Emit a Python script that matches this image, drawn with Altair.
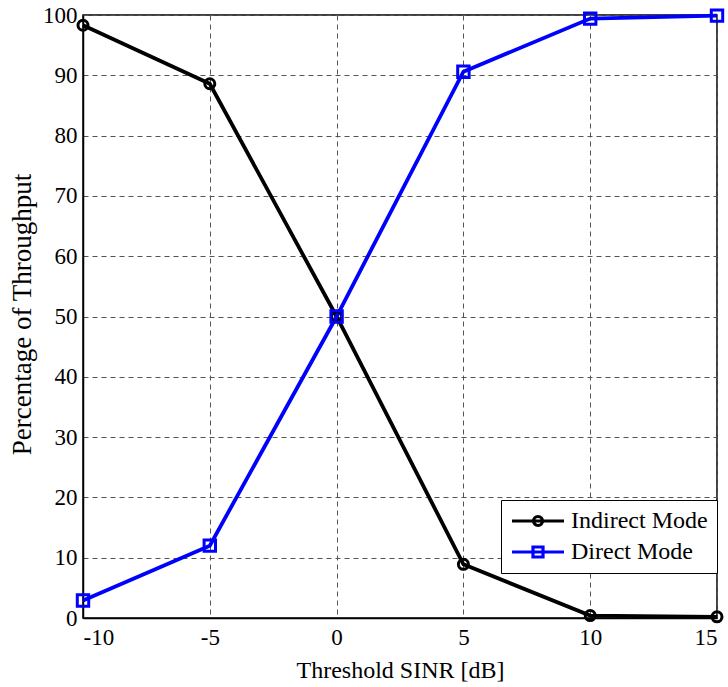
import altair as alt
import pandas as pd

x_values = [-10, -5, 0, 5, 10, 15]
indirect = [98.3, 88.6, 50.0, 8.9, 0.4, 0.2]
direct = [2.9, 12.0, 50.0, 90.6, 99.4, 99.9]
series_names = ["Indirect Mode", "Direct Mode"]
series_colors = ["#000000", "#0000ff"]

rows = []
for name, vals in zip(series_names, [indirect, direct]):
    for xv, yv in zip(x_values, vals):
        rows.append({"sinr": xv, "pct": yv, "series": name})
df = pd.DataFrame(rows)

FONT = "Liberation Serif, Times New Roman, DejaVu Serif, serif"

xenc = alt.X("sinr:Q", scale=alt.Scale(domain=[-10, 15], nice=False),
             axis=alt.Axis(values=[-10, -5, 0, 5, 10, 15], title="Threshold SINR [dB]",
                           labelExpr="'' + datum.value",
                           labelFont=FONT, titleFont=FONT, titleFontSize=24,
                           titleX=317, titleY=59, titleBaseline="alphabetic"))
yenc = alt.Y("pct:Q", scale=alt.Scale(domain=[0, 100], nice=False),
             axis=alt.Axis(values=list(range(0, 101, 10)), title="Percentage of Throughput",
                           labelFont=FONT, titleFont=FONT, titleFontSize=27,
                           titleX=-61, titleY=299, titleBaseline="middle", titleAngle=-90))

base = alt.Chart(df)

line_ind = base.transform_filter(alt.datum.series == "Indirect Mode").mark_line(
    color="#000000", strokeWidth=3.8).encode(x=xenc, y=yenc)
pt_ind = base.transform_filter(alt.datum.series == "Indirect Mode").mark_point(
    shape="circle", color="#000000", filled=False, size=100, strokeWidth=3, opacity=1
).encode(x=xenc, y=yenc)
line_dir = base.transform_filter(alt.datum.series == "Direct Mode").mark_line(
    color="#0000ff", strokeWidth=3.8).encode(x=xenc, y=yenc)
pt_dir = base.transform_filter(alt.datum.series == "Direct Mode").mark_point(
    shape="square", color="#0000ff", filled=False, size=130, strokeWidth=3, opacity=1
).encode(x=xenc, y=yenc)

path_ind = "M-1,0L4.2,0M1.15,0A0.45,0.45,0,1,1,2.05,0A0.45,0.45,0,1,1,1.15,0"
path_dir = "M-1,0L4.2,0M1.1,-0.5L2.1,-0.5L2.1,0.5L1.1,0.5Z"

leg = alt.Legend(title=None, orient="none", legendX=418, legendY=485,
                 padding=9, rowPadding=7, labelOffset=37,
                 strokeColor="#000000", fillColor="#ffffff",
                 symbolOpacity=1, symbolStrokeWidth=3.2, symbolSize=400,
                 symbolFillColor="transparent",
                 labelFont=FONT, labelFontSize=24, labelColor="#000000")

legend_layer = base.mark_point(opacity=0, filled=False).encode(
    x=xenc, y=yenc,
    color=alt.Color("series:N", scale=alt.Scale(domain=series_names, range=series_colors), legend=leg),
    shape=alt.Shape("series:N", scale=alt.Scale(domain=series_names, range=[path_ind, path_dir]), legend=leg),
)

chart = alt.layer(line_ind, line_dir, pt_ind, pt_dir, legend_layer).properties(
    width=634, height=603,
    autosize=alt.AutoSizeParams(type="none"),
    padding={"left": 83, "top": 15, "right": 11, "bottom": 69},
    background="#ffffff",
).configure(
    font=FONT
).configure_view(
    stroke="#000000", strokeWidth=1.5
).configure_axis(
    labelFont=FONT, labelFontSize=23, labelColor="#000000",
    titleFont=FONT, titleFontWeight="normal", titleColor="#000000",
    domainColor="#000000", domainWidth=1.5,
    tickSize=0, labelPadding=6,
    grid=True, gridColor="#555555", gridDash=[5, 4], gridWidth=1,
).configure_axisX(labelPadding=8)

chart.save("out.html", embed_options={"renderer": "svg", "actions": False})
